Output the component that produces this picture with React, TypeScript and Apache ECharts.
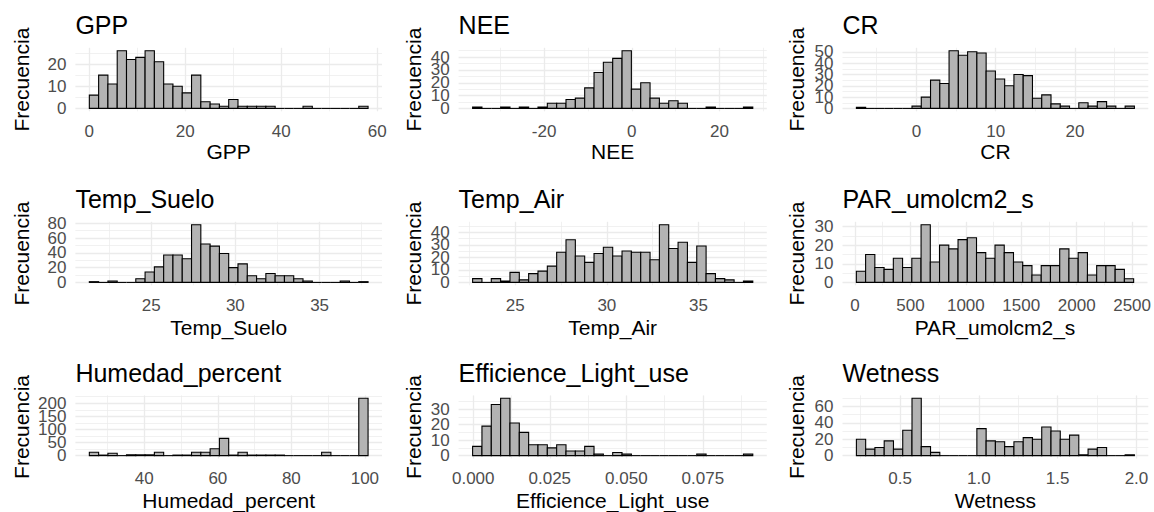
import React, { useEffect, useRef } from 'react';
import * as echarts from 'echarts';

// ---- data (30 bins per histogram) ----
const panelNames = ['GPP', 'NEE', 'CR', 'Temp_Suelo', 'Temp_Air', 'PAR_umolcm2_s', 'Humedad_percent', 'Efficience_Light_use', 'Wetness'];

const gppCounts = [6, 15, 11, 26, 22, 23, 26, 21, 11, 10, 7, 15, 3, 2, 1, 4, 1, 1, 1, 1, 0, 0, 0, 1, 0, 0, 0, 0, 0, 1];
const neeCounts = [1, 0, 0, 1, 0, 1, 0, 1, 4, 4, 7, 8, 16, 28, 36, 39, 45, 15, 20, 8, 4, 6, 4, 0, 0, 1, 0, 0, 0, 1];
const crCounts = [1, 0, 0, 0, 0, 0, 2, 10, 25, 22, 51, 47, 50, 49, 33, 26, 20, 30, 29, 9, 12, 4, 2, 0, 5, 2, 6, 2, 0, 2];
const tempSueloCounts = [1, 0, 2, 0, 0, 5, 14, 21, 37, 37, 32, 78, 52, 49, 39, 20, 25, 9, 5, 12, 9, 9, 5, 2, 0, 0, 0, 2, 0, 1];
const tempAirCounts = [3, 0, 3, 1, 8, 2, 7, 9, 13, 24, 34, 21, 16, 23, 28, 21, 25, 24, 24, 18, 46, 27, 32, 16, 29, 7, 3, 2, 0, 1];
const parCounts = [6, 15, 8, 7, 13, 8, 13, 31, 11, 20, 18, 23, 24, 16, 13, 20, 16, 11, 9, 4, 9, 9, 18, 13, 16, 4, 9, 9, 7, 2];
const humedadCounts = [13, 2, 9, 0, 3, 3, 3, 13, 0, 2, 2, 13, 13, 26, 66, 2, 13, 2, 2, 2, 2, 0, 0, 0, 0, 13, 0, 0, 0, 219];
const eluCounts = [6, 19, 33, 37, 21, 15, 7, 7, 5, 7, 3, 3, 6, 1, 0, 2, 1, 0, 0, 0, 0, 0, 0, 0, 1, 0, 0, 0, 0, 1];
const wetnessCounts = [20, 8, 10, 18, 8, 31, 70, 11, 4, 0, 0, 0, 0, 33, 18, 17, 11, 17, 22, 20, 35, 30, 20, 25, 1, 8, 10, 0, 0, 1];

const allCounts = [gppCounts, neeCounts, crCounts, tempSueloCounts, tempAirCounts, parCounts, humedadCounts, eluCounts, wetnessCounts];

const binStarts = [0, -36.3, -7.56, 21.33, 22.67, 12, 25.05, -0.0002, 0.223];
const binWidths = [1.937, 2.13, 1.168, 0.5516, 0.51, 83.4, 2.527, 0.00305, 0.0588];

const xMajorTicks = [
  [0, 20, 40, 60], [-20, 0, 20], [0, 10, 20],
  [25, 30, 35], [25, 30, 35], [0, 500, 1000, 1500, 2000, 2500],
  [40, 60, 80, 100], [0, 0.025, 0.05, 0.075], [0.5, 1, 1.5, 2],
];
const xMinorTicks = [
  [10, 30, 50], [-30, -10, 10, 30], [-5, 5, 15, 25],
  [22.5, 27.5, 32.5, 37.5], [22.5, 27.5, 32.5, 37.5], [250, 750, 1250, 1750, 2250],
  [30, 50, 70, 90], [0.0125, 0.0375, 0.0625, 0.0875], [0.25, 0.75, 1.25, 1.75],
];
const yMajorTicks = [
  [0, 10, 20], [0, 10, 20, 30, 40], [0, 10, 20, 30, 40, 50],
  [0, 20, 40, 60, 80], [0, 10, 20, 30, 40], [0, 10, 20, 30],
  [0, 50, 100, 150, 200], [0, 10, 20, 30], [0, 20, 40, 60],
];
const yMinorTicks = [
  [5, 15, 25], [5, 15, 25, 35, 45], [5, 15, 25, 35, 45],
  [10, 30, 50, 70], [5, 15, 25, 35, 45], [5, 15, 25],
  [25, 75, 125, 175, 225], [5, 15, 25, 35], [10, 30, 50, 70],
];
const xDecimals = [0, 0, 0, 0, 0, 0, 0, 3, 1];
const yAxisTitle = 'Frecuencia';

// ---- layout ----
const colLeft = [75.4, 458.6, 842.5];
const colWidth = [306.6, 308.2, 305.8];
const rowTop = [47.8, 221.8, 395.4];
const panelH = 63.5;
const yNameGap = [43, 35, 36];
const xNameGap = [28.5, 32, 31.5];
const yLabelMargin = 9;
const FONT = '"Liberation Sans", Arial, Helvetica, sans-serif';
const GRID_COLOR = '#EBEBEB';
const TICK_COLOR = '#4D4D4D';

function panelRange(i: number) {
  const counts = allCounts[i];
  const start = binStarts[i];
  const w = binWidths[i];
  const end = start + w * counts.length;
  const xpad = (end - start) * 0.05;
  const cmax = Math.max(...counts);
  return { start, w, counts, xmin: start - xpad, xmax: end + xpad, ymin: -0.05 * cmax, ymax: 1.05 * cmax };
}

function buildOption() {
  const grid: any[] = [];
  const xAxis: any[] = [];
  const yAxis: any[] = [];
  const series: any[] = [];

  panelNames.forEach((name, i) => {
    const r = Math.floor(i / 3);
    const c = i % 3;
    const { start, w, counts, xmin, xmax, ymin, ymax } = panelRange(i);
    const inX = (v: number) => v >= xmin && v <= xmax;
    const inY = (v: number) => v >= ymin && v <= ymax;

    grid.push({ left: colLeft[c], top: rowTop[r], width: colWidth[c], height: panelH, containLabel: false });

    const dec = xDecimals[i];
    xAxis.push({
      type: 'value', gridIndex: i, position: 'bottom', min: xmin, max: xmax,
      axisLine: { show: false },
      axisTick: { show: false, customValues: xMajorTicks[i].filter(inX) },
      axisLabel: {
        customValues: xMajorTicks[i].filter(inX), color: TICK_COLOR, fontSize: 17, fontFamily: FONT, margin: 11.4,
        showMinLabel: true, showMaxLabel: true, hideOverlap: false,
        formatter: (v: number) => v.toFixed(dec),
      },
      splitLine: { show: true, lineStyle: { color: GRID_COLOR, width: 1.3 } },
      name, nameLocation: 'middle', nameGap: xNameGap[r],
      nameTextStyle: { color: '#000', fontSize: 21, fontFamily: FONT },
    });
    xAxis.push({
      type: 'value', gridIndex: i, position: 'top', min: xmin, max: xmax,
      axisLine: { show: false },
      axisTick: { show: false, customValues: xMinorTicks[i].filter(inX) },
      axisLabel: { show: false },
      splitLine: { show: true, lineStyle: { color: GRID_COLOR, width: 0.7 } },
    });
    yAxis.push({
      type: 'value', gridIndex: i, position: 'left', min: ymin, max: ymax,
      axisLine: { show: false },
      axisTick: { show: false, customValues: yMajorTicks[i].filter(inY) },
      axisLabel: { show: false },
      splitLine: { show: true, lineStyle: { color: GRID_COLOR, width: 1.3 } },
      name: yAxisTitle, nameLocation: 'middle', nameGap: yNameGap[c], nameRotate: 90,
      nameTextStyle: { color: '#000', fontSize: 21, fontFamily: FONT },
    });
    yAxis.push({
      type: 'value', gridIndex: i, position: 'right', min: ymin, max: ymax,
      axisLine: { show: false },
      axisTick: { show: false, customValues: yMinorTicks[i].filter(inY) },
      axisLabel: { show: false },
      splitLine: { show: true, lineStyle: { color: GRID_COLOR, width: 0.7 } },
    });

    series.push({
      type: 'custom',
      xAxisIndex: 2 * i,
      yAxisIndex: 2 * i,
      encode: { x: [0, 1], y: 2 },
      data: counts.map((n, k) => [start + k * w, start + (k + 1) * w, n]),
      renderItem: (_params: any, api: any) => {
        const x0 = api.value(0);
        const x1 = api.value(1);
        const n = api.value(2);
        const pTop = api.coord([x0, n]);
        const pBase = api.coord([x1, 0]);
        if (n > 0) {
          return {
            type: 'rect',
            shape: { x: pTop[0], y: pTop[1], width: pBase[0] - pTop[0], height: pBase[1] - pTop[1] },
            style: { fill: '#B3B3B3', stroke: '#000000', lineWidth: 1.1 },
          };
        }
        return {
          type: 'line',
          shape: { x1: pTop[0], y1: pBase[1], x2: pBase[0], y2: pBase[1] },
          style: { stroke: '#000000', lineWidth: 1.1 },
        };
      },
    });
  });

  return { animation: false, backgroundColor: '#FFFFFF', grid, xAxis, yAxis, series };
}

function buildGraphics(chart: echarts.ECharts) {
  const graphic: any[] = [];
  panelNames.forEach((name, i) => {
    const r = Math.floor(i / 3);
    const c = i % 3;
    const { xmin, ymin, ymax } = panelRange(i);
    graphic.push({
      type: 'text',
      left: colLeft[c],
      top: rowTop[r] - 35,
      style: { text: name, fill: '#000', font: `25px ${FONT}` },
    });
    // y tick labels, placed through the panel's own axes
    yMajorTicks[i].filter((v) => v >= ymin && v <= ymax).forEach((v) => {
      const p = chart.convertToPixel({ xAxisIndex: 2 * i, yAxisIndex: 2 * i } as any, [xmin, v]) as number[];
      graphic.push({
        type: 'text',
        x: p[0] - yLabelMargin,
        y: p[1],
        style: { text: String(v), fill: TICK_COLOR, font: `17px ${FONT}`, align: 'right', verticalAlign: 'middle' },
      });
    });
  });
  return graphic;
}

export default function App() {
  const ref = useRef<HTMLDivElement | null>(null);
  useEffect(() => {
    document.body.style.margin = '0';
    if (!ref.current) return;
    const chart = echarts.init(ref.current, undefined, { renderer: 'svg' });
    chart.setOption(buildOption());
    chart.setOption({ graphic: buildGraphics(chart) });
    return () => chart.dispose();
  }, []);
  return <div ref={ref} style={{ width: 1154, height: 512 }} />;
}
